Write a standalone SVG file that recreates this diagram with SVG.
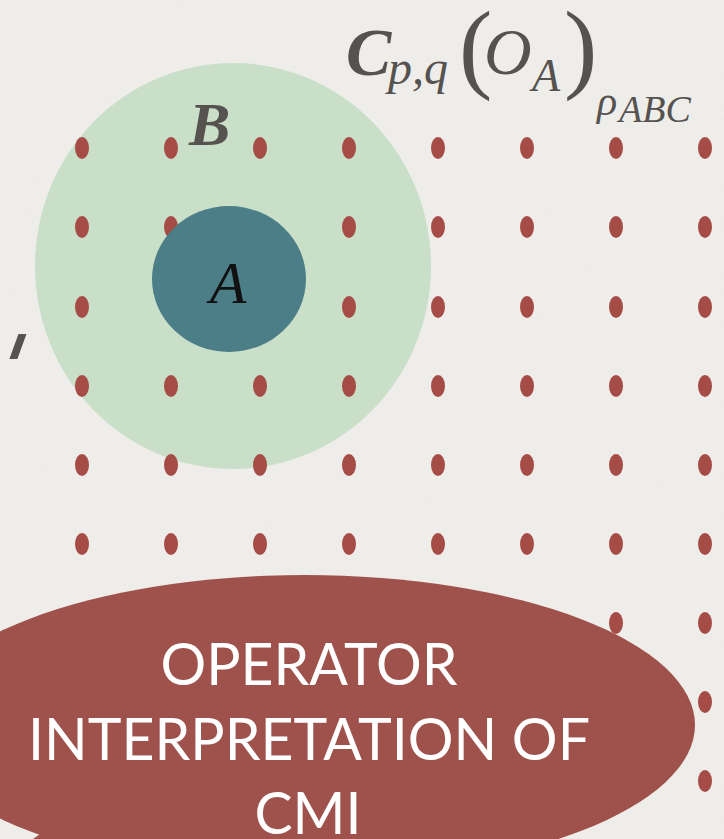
<svg xmlns="http://www.w3.org/2000/svg" width="724" height="839" viewBox="0 0 724 839">
  <defs>
    <filter id="paper" x="0" y="0" width="100%" height="100%">
      <feTurbulence type="fractalNoise" baseFrequency="0.9" numOctaves="2" seed="3" result="n"/>
      <feColorMatrix type="matrix" values="0 0 0 0 0  0 0 0 0 0  0 0 0 0 0  0 0 0 0.025 0"/>
    </filter>
    <ellipse id="dot" cx="0" cy="0" rx="7" ry="11"/>
    <style>
      .dot { fill: #a64c46; }
      .math { font-family: "Liberation Serif", "Times New Roman", serif; fill: #55524f; }
      .it { font-style: italic; }
      .bf { font-weight: bold; }
      .cap { font-family: Lato, "Liberation Sans", sans-serif; fill: #ffffff; font-size: 58px; text-anchor: middle; }
    </style>
  </defs>

  <rect x="0" y="0" width="724" height="839" fill="#f1f0ed"/>
  <rect x="0" y="0" width="724" height="839" filter="url(#paper)"/>

  <g id="region-B">
    <ellipse cx="233" cy="266" rx="198" ry="203" fill="#c9dfc8"/>
  </g>

  <g id="lattice" class="dot">
    <use href="#dot" x="82" y="148"/><use href="#dot" x="171" y="148"/><use href="#dot" x="260" y="148"/><use href="#dot" x="349" y="148"/><use href="#dot" x="438" y="148"/><use href="#dot" x="527" y="148"/><use href="#dot" x="616" y="148"/><use href="#dot" x="705" y="148"/>
    <use href="#dot" x="82" y="227"/><use href="#dot" x="171" y="227"/><use href="#dot" x="349" y="227"/><use href="#dot" x="438" y="227"/><use href="#dot" x="527" y="227"/><use href="#dot" x="616" y="227"/><use href="#dot" x="705" y="227"/>
    <use href="#dot" x="82" y="307"/><use href="#dot" x="349" y="307"/><use href="#dot" x="438" y="307"/><use href="#dot" x="527" y="307"/><use href="#dot" x="616" y="307"/><use href="#dot" x="705" y="307"/>
    <use href="#dot" x="82" y="386"/><use href="#dot" x="171" y="386"/><use href="#dot" x="260" y="386"/><use href="#dot" x="349" y="386"/><use href="#dot" x="438" y="386"/><use href="#dot" x="527" y="386"/><use href="#dot" x="616" y="386"/><use href="#dot" x="705" y="386"/>
    <use href="#dot" x="82" y="465"/><use href="#dot" x="171" y="465"/><use href="#dot" x="260" y="465"/><use href="#dot" x="349" y="465"/><use href="#dot" x="438" y="465"/><use href="#dot" x="527" y="465"/><use href="#dot" x="616" y="465"/><use href="#dot" x="705" y="465"/>
    <use href="#dot" x="82" y="544"/><use href="#dot" x="171" y="544"/><use href="#dot" x="260" y="544"/><use href="#dot" x="349" y="544"/><use href="#dot" x="438" y="544"/><use href="#dot" x="527" y="544"/><use href="#dot" x="616" y="544"/><use href="#dot" x="705" y="544"/>
    <use href="#dot" x="616" y="623"/><use href="#dot" x="705" y="623"/>
    <use href="#dot" x="705" y="702"/>
    <use href="#dot" x="705" y="781"/>
  </g>

  <g id="region-A">
    <ellipse cx="229" cy="279" rx="77" ry="73" fill="#4c7e88"/>
    <text x="228" y="303" font-family="Liberation Serif, serif" font-style="italic" font-size="60" fill="#111111" text-anchor="middle">A</text>
  </g>

  <g id="label-B">
    <text class="math it bf" x="189" y="145" font-size="62">B</text>
  </g>

  <g id="formula">
    <text class="math it bf" x="346" y="75" font-size="68">C</text>
    <text class="math it" x="388" y="84" font-size="48">p,q</text>
    <text class="math" x="459" y="80" font-size="100">(</text>
    <text class="math it" x="484" y="74" font-size="66">O</text>
    <text class="math it" x="532" y="91" font-size="46">A</text>
    <text class="math" x="564" y="80" font-size="100">)</text>
    <text class="math it" x="597" y="115" font-size="42">ρ</text>
    <text class="math it" x="619" y="122" font-size="38">ABC</text>
  </g>

  <g id="mark" transform="translate(18,346) skewX(-20) scale(0.75,1)">
    <text x="0" y="55" text-anchor="middle" font-family="DejaVu Sans, sans-serif" font-weight="bold" font-size="92" fill="#55524f">'</text>
  </g>

  <g id="callout">
    <ellipse cx="305" cy="725" rx="390" ry="150" fill="#9f524c"/>
    <polygon points="150,828 40,834 -30,884 150,884" fill="#9f524c"/>
    <text class="cap" x="309" y="685" textLength="297" lengthAdjust="spacingAndGlyphs">OPERATOR</text>
    <text class="cap" x="309" y="760" textLength="562" lengthAdjust="spacingAndGlyphs">INTERPRETATION OF</text>
    <text class="cap" x="308" y="834" textLength="107" lengthAdjust="spacingAndGlyphs">CMI</text>
  </g>
</svg>
